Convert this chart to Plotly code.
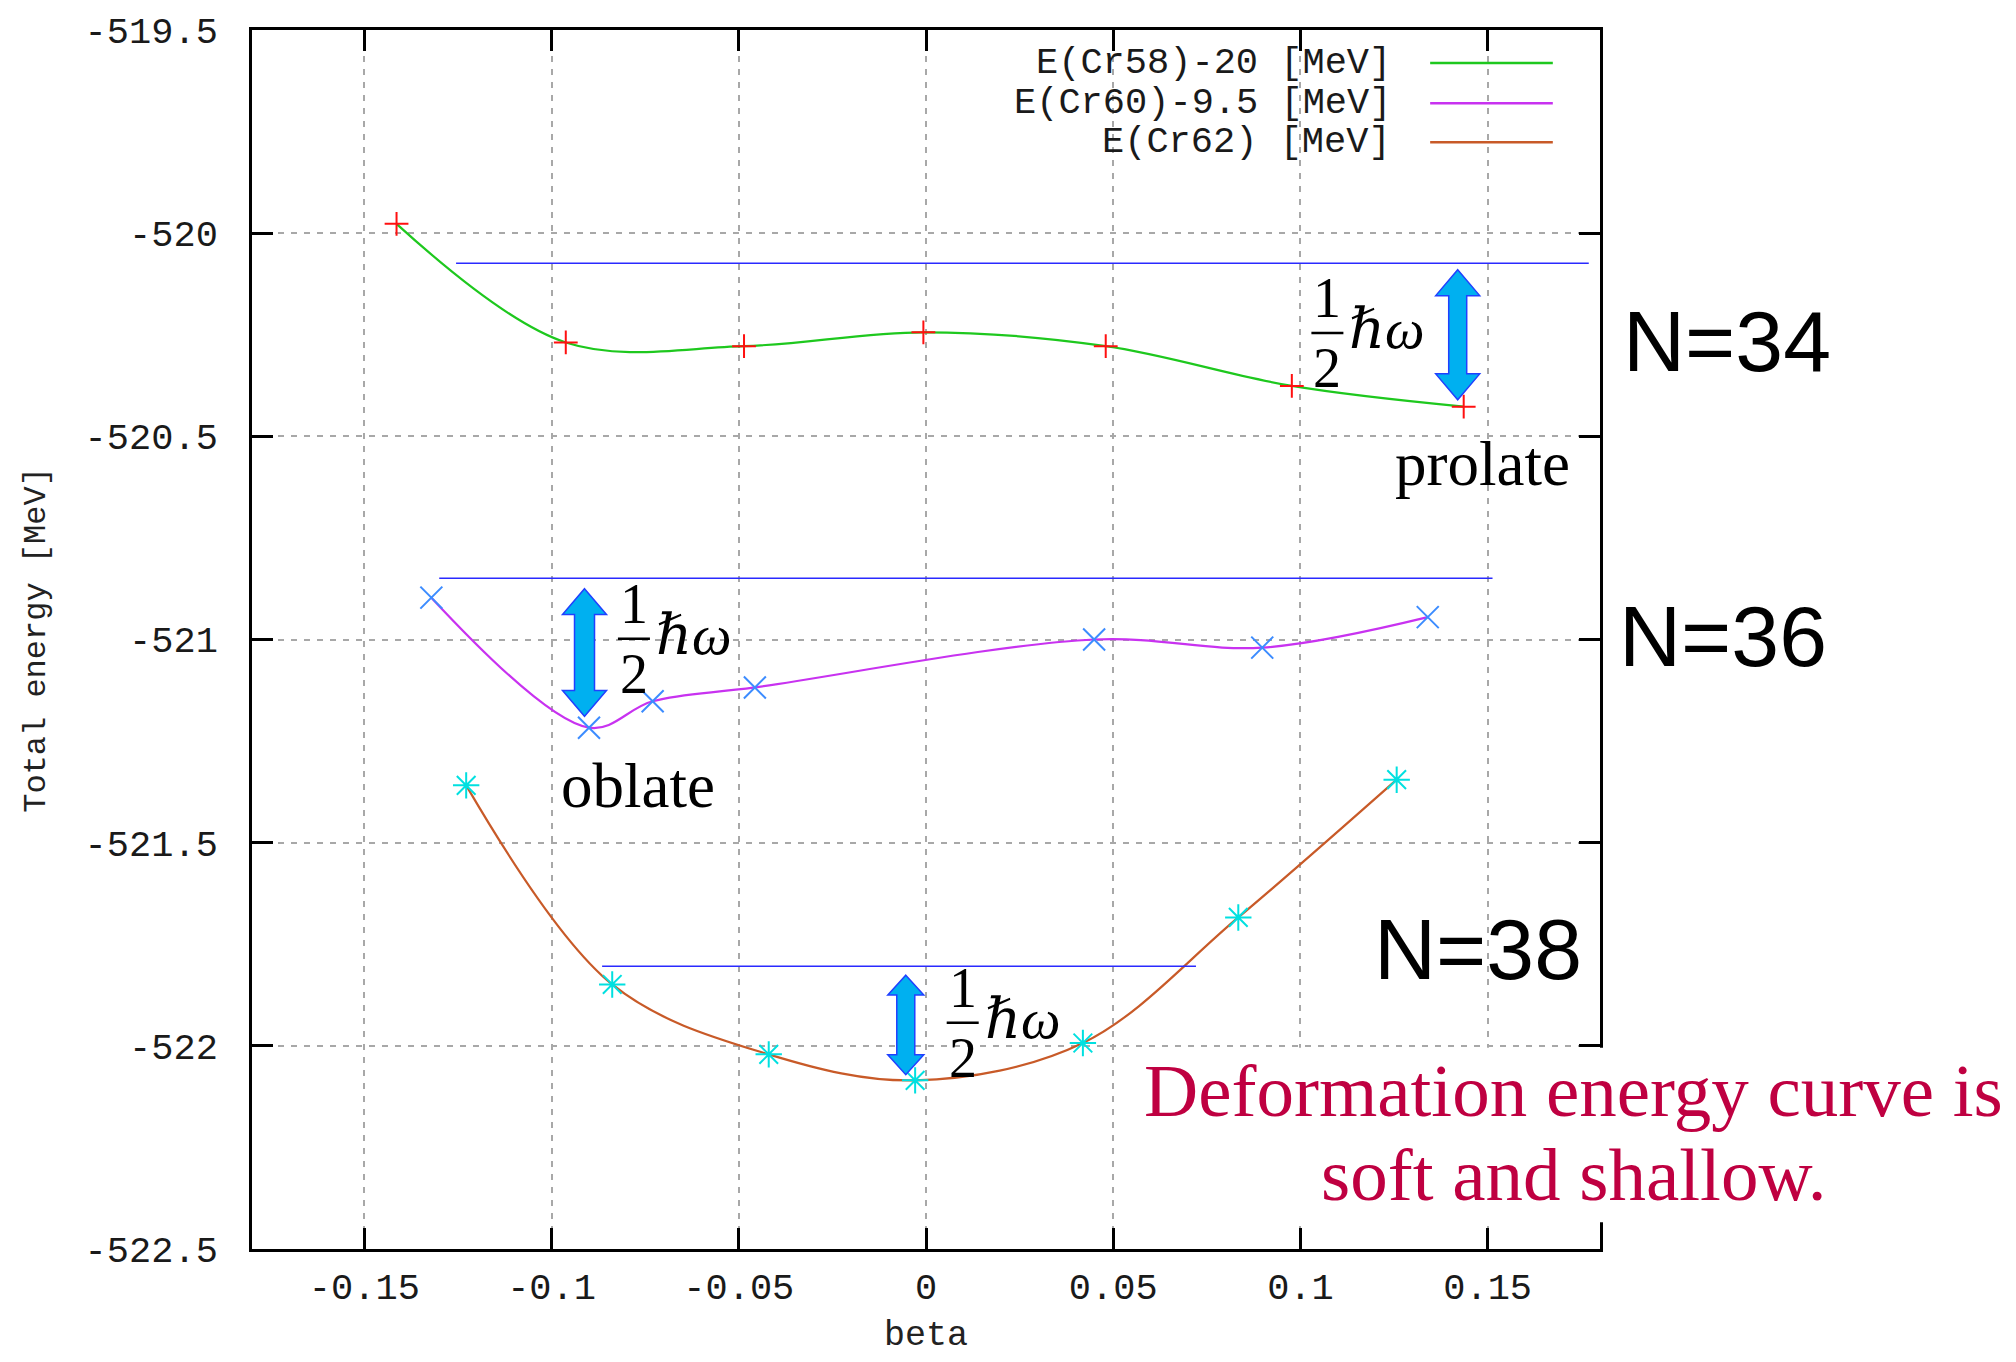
import plotly.graph_objects as go

# ---------------- data ----------------
beta_cr58 = [-0.1414, -0.0962, -0.0486, -0.0007, 0.0480, 0.0977, 0.1436]
e_cr58 = [-519.977, -520.269, -520.278, -520.244, -520.278, -520.376, -520.427]

beta_cr60 = [-0.1321, -0.0900, -0.0730, -0.0457, 0.0449, 0.0898, 0.1340]
e_cr60 = [-520.897, -521.217, -521.152, -521.118, -521.000, -521.020, -520.945]

beta_cr62 = [-0.1228, -0.0838, -0.0420, -0.0029, 0.0419, 0.0834, 0.1257]
e_cr62 = [-521.359, -521.849, -522.021, -522.085, -521.993, -521.684, -521.345]

series_names = ["E(Cr58)-20 [MeV]", "E(Cr60)-9.5 [MeV]", "E(Cr62) [MeV]"]

x_ticks = [-0.15, -0.1, -0.05, 0, 0.05, 0.1, 0.15]
x_tick_text = ["-0.15", "-0.1", "-0.05", "0", "0.05", "0.1", "0.15"]
y_ticks = [-522.5, -522, -521.5, -521, -520.5, -520, -519.5]
y_tick_text = ["-522.5", "-522", "-521.5", "-521", "-520.5", "-520", "-519.5"]

# reference levels (blue lines): level, start beta, end beta
ref_level = [-520.074, -520.849, -521.804]
ref_start = [-0.1255, -0.1300, -0.0865]
ref_end = [0.1770, 0.1513, 0.0721]

# double arrows: centre beta, top energy, bottom energy
arrow_beta = [0.1420, -0.0912, -0.0054]
arrow_top = [-520.090, -520.875, -521.826]
arrow_bottom = [-520.410, -521.189, -522.071]

# "1/2 hbar omega" labels: fraction-bar centre
frac_beta = [0.1072, -0.0780, 0.0098]
frac_e = [-520.246, -520.998, -521.943]

shell_labels = ["N=34", "N=36", "N=38"]
shape_labels = ["prolate", "oblate"]
shape_beta = [0.1486, -0.0768]
shape_e = [-520.569, -521.360]
note_lines = ["Deformation energy curve is", "soft and shallow."]

# ---------------- styling ----------------
W, H = 2016, 1362
ML, MR, MT, MB = 252, 416, 25, 113
XR = [-0.18, 0.18]
YR = [-522.5, -519.5]
plot_w = W - ML - MR
plot_h = H - MT - MB
px_beta = plot_w / (XR[1] - XR[0])
px_e = plot_h / (YR[1] - YR[0])

line_colors = ["#1ec81e", "#c832f0", "#c85a28"]
marker_colors = ["#ff1010", "#3c8cff", "#00e0e0"]
marker_symbols = ["cross-thin", "x-thin", "asterisk"]
marker_sizes = [17, 22, 22]

mono = "Liberation Mono, DejaVu Sans Mono, monospace"
serif = "Liberation Serif, DejaVu Serif, serif"
sans = "Liberation Sans, Arial, sans-serif"

fig = go.Figure()
series = [(beta_cr58, e_cr58), (beta_cr60, e_cr60), (beta_cr62, e_cr62)]
for i, (bx, by) in enumerate(series):
    fig.add_trace(go.Scatter(
        x=bx, y=by, name=series_names[i], mode="lines+markers",
        line=dict(color=line_colors[i], width=2.2, shape="spline", smoothing=1.0),
        marker=dict(symbol=marker_symbols[i], size=marker_sizes[i],
                    color=marker_colors[i],
                    line=dict(color=marker_colors[i], width=2)),
        showlegend=False, hoverinfo="skip"))

shapes = []
annotations = []


def ann(text, x, y, xref, yref, size, family, color="black", **kw):
    d = dict(text=text, x=x, y=y, xref=xref, yref=yref, showarrow=False,
             xanchor="center", yanchor="middle",
             font=dict(family=family, size=size, color=color))
    d.update(kw)
    annotations.append(d)


# legend box (white, hides grid) and manual gnuplot-style legend
shapes.append(dict(type="rect", xref="paper", yref="paper", layer="between",
                   x0=0.547, x1=0.997, y0=0.890, y1=0.981,
                   fillcolor="white", line=dict(width=0)))
leg_y = [0.973, 0.940, 0.908]
for i, name in enumerate(series_names):
    ann(name, 0.8464, leg_y[i], "paper", "paper", 37, mono, "#1a1a1a", xanchor="right")
    shapes.append(dict(type="line", xref="paper", yref="paper",
                       x0=0.874, x1=0.965, y0=leg_y[i], y1=leg_y[i],
                       line=dict(color=line_colors[i], width=2.5)))

# blue reference lines
for lv, s, e in zip(ref_level, ref_start, ref_end):
    shapes.append(dict(type="line", xref="x", yref="y", x0=s, x1=e, y0=lv, y1=lv,
                       line=dict(color="#2a2aff", width=1.5), layer="above"))

# double arrows
head_hw = [22, 22, 18]
shaft_hw = [9, 10, 9]
head_h = [26, 26, 20]
for i in range(3):
    c, t, b = arrow_beta[i], arrow_top[i], arrow_bottom[i]
    hw = head_hw[i] / px_beta
    sw = shaft_hw[i] / px_beta
    hh = head_h[i] / px_e
    pts = [(c, t), (c + hw, t - hh), (c + sw, t - hh), (c + sw, b + hh),
           (c + hw, b + hh), (c, b), (c - hw, b + hh), (c - sw, b + hh),
           (c - sw, t - hh), (c - hw, t - hh)]
    path = "M " + " L ".join(f"{px},{py}" for px, py in pts) + " Z"
    shapes.append(dict(type="path", xref="x", yref="y", path=path,
                       fillcolor="#00b0f0", line=dict(color="#2040ff", width=1.5),
                       layer="above"))

# 1/2 hbar omega labels
for fb, fe in zip(frac_beta, frac_e):
    half = 16 / px_beta
    shapes.append(dict(type="line", xref="x", yref="y", x0=fb - half, x1=fb + half,
                       y0=fe, y1=fe, line=dict(color="black", width=2.5), layer="above"))
    ann("1", fb, fe, "x", "y", 56, serif, yshift=35)
    ann("2", fb, fe, "x", "y", 56, serif, yshift=-35)
    ann("<i>ℏω</i>", fb, fe, "x", "y", 56, serif, xshift=60, yshift=4)

# prolate / oblate
for lab, sb, se in zip(shape_labels, shape_beta, shape_e):
    ann(lab, sb, se, "x", "y", 63, serif)

# shell labels (paper coordinates)
shell_x = [1.094, 1.091, 0.9095]
shell_y = [0.745, 0.503, 0.246]
for lab, sx, sy in zip(shell_labels, shell_x, shell_y):
    ann(lab, sx, sy, "paper", "paper", 86, sans)

# note with white background
shapes.append(dict(type="rect", xref="paper", yref="paper", layer="above",
                   x0=0.666, x1=1.306, y0=0.022, y1=0.165,
                   fillcolor="white", line=dict(width=0)))
note_y = [0.1300, 0.0610]
for txt, ny in zip(note_lines, note_y):
    ann(txt, 0.9800, ny, "paper", "paper", 75, serif, "#bf0041")

# axis titles
ann("Total energy [MeV]", -0.160, 0.5, "paper", "paper", 32, mono, "#222", textangle=-90)
ann("beta", 0.5, -0.0715, "paper", "paper", 35, mono, "#222")

axis_common = dict(showgrid=True, gridcolor="#a8a8a8", gridwidth=2, griddash="6px,7px",
                   ticks="inside", ticklen=21, tickwidth=2.5, tickcolor="black",
                   showline=True, linecolor="black", linewidth=2.5, mirror="ticks",
                   zeroline=False, tickfont=dict(family=mono, size=37, color="#1a1a1a"))

fig.update_layout(
    width=W, height=H, autosize=False,
    margin=dict(l=ML, r=MR, t=MT, b=MB),
    paper_bgcolor="white", plot_bgcolor="white",
    xaxis=dict(range=XR, tickvals=x_ticks, ticktext=x_tick_text,
               ticklabelstandoff=3, **axis_common),
    yaxis=dict(range=YR, tickvals=y_ticks, ticktext=y_tick_text,
               ticklabelstandoff=24, **axis_common),
    shapes=shapes, annotations=annotations, showlegend=False,
)

fig.write_html("out.html")
